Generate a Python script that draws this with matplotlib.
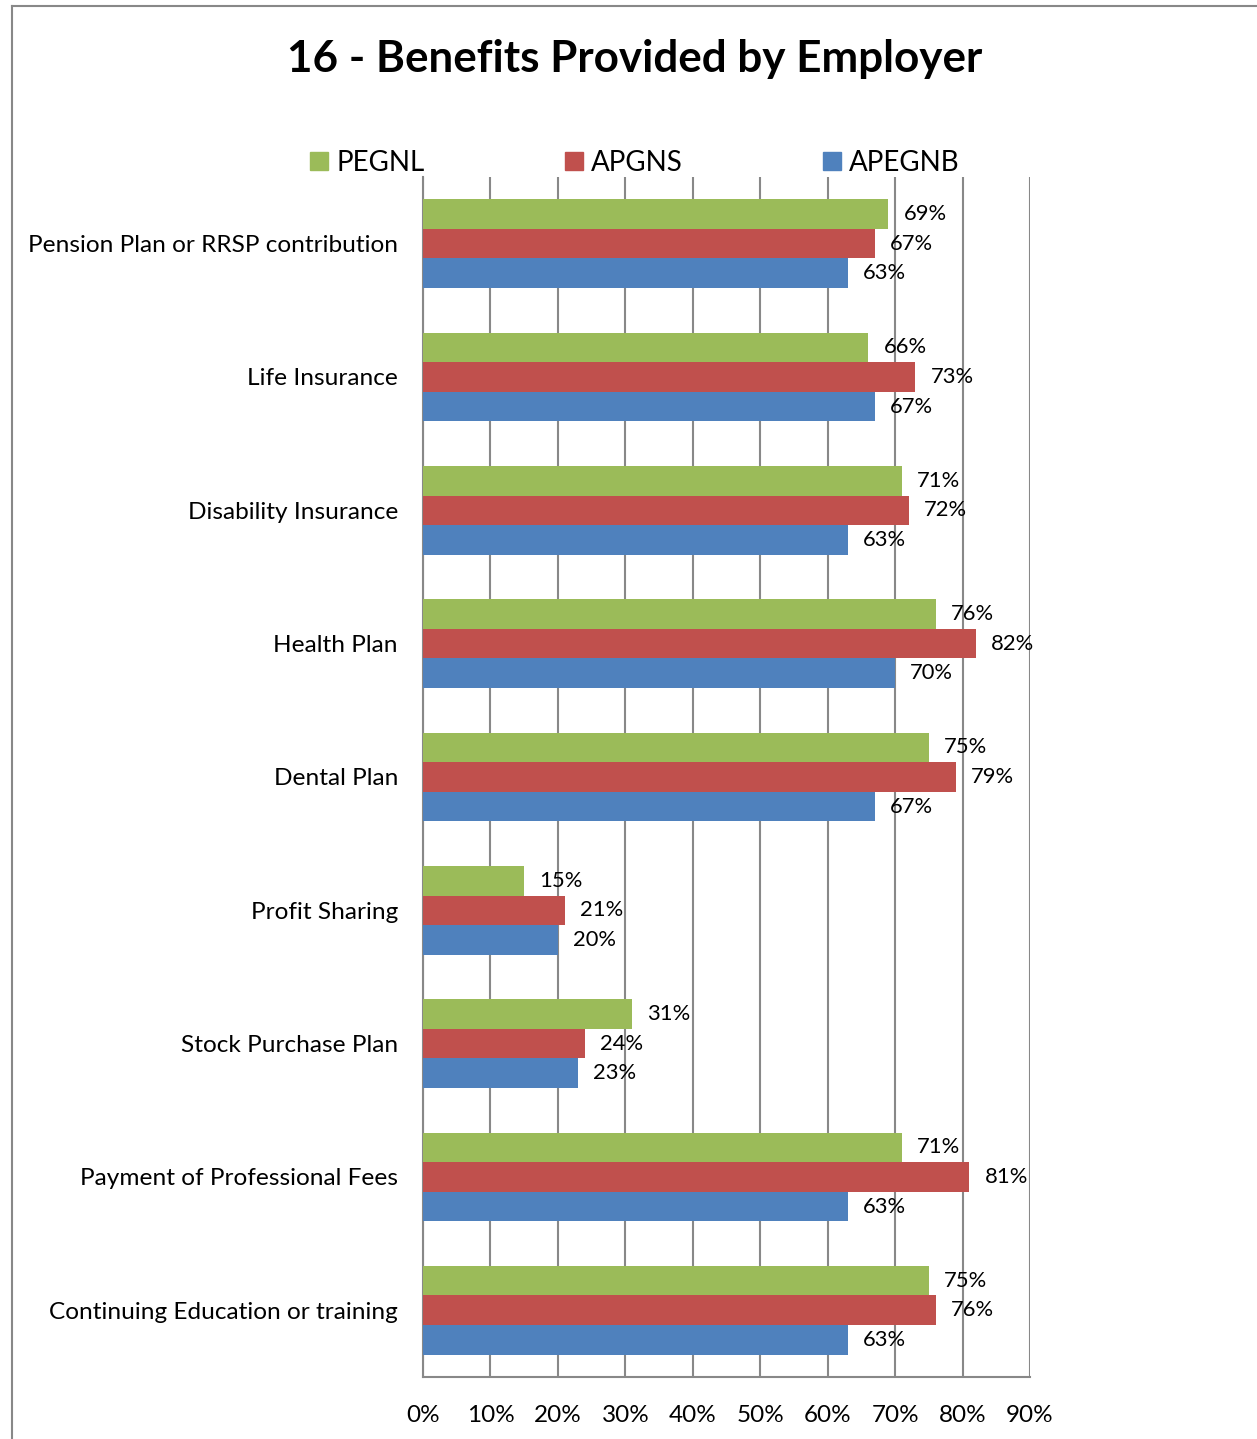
import numpy as np
import matplotlib
matplotlib.use("Agg")
import matplotlib.pyplot as plt
from matplotlib.lines import Line2D
from matplotlib.patches import Patch

plt.rcParams['font.family'] = ['Lato', 'DejaVu Sans']

# datos
categorias = ['Pension Plan or RRSP contribution', 'Life Insurance', 'Disability Insurance',
              'Health Plan', 'Dental Plan', 'Profit Sharing', 'Stock Purchase Plan',
              'Payment of Professional Fees', 'Continuing Education or training']
pegnl = [69, 66, 71, 76, 75, 15, 31, 71, 75]
apgns = [67, 73, 72, 82, 79, 21, 24, 81, 76]
apegnb = [63, 67, 63, 70, 67, 20, 23, 63, 63]
series = ['PEGNL', 'APGNS', 'APEGNB']
colores = ['#9BBB59', '#C0504D', '#4F81BD']
ticks = [0, 10, 20, 30, 40, 50, 60, 70, 80, 90]

fig = plt.figure(figsize=(12.57, 14.39), dpi=100)
ax = fig.add_axes([0.3365, 0.0431, 0.4829, 0.8339])

y = np.arange(len(categorias))
h = 2 / 9
for k, (vals, col, nom) in enumerate(zip([pegnl, apgns, apegnb], colores, series)):
    barras = ax.barh(y + (k - 1) * h, np.array(vals) / 100, height=h, color=col,
                     label=nom, zorder=3)
    etiquetas = ax.bar_label(barras, labels=[f'{v}%' for v in vals], padding=11,
                             fontsize=15.8, zorder=4)

ax.set_xlim(0, 0.9)
ax.set_ylim(len(categorias) - 0.5, -0.5)
ax.set_xticks(np.array(ticks) / 100)
ax.set_xticklabels([f'{t}%' for t in ticks], fontsize=17.5)
ax.set_yticks(y)
ax.set_yticklabels(categorias, fontsize=17.6)
ax.tick_params(axis='both', length=0, pad=18)
ax.tick_params(axis='x', pad=20)
ax.grid(axis='x', color='#888888', linewidth=1.5, zorder=0)
for s in ['top', 'right']:
    ax.spines[s].set_visible(False)
for s in ['left', 'bottom']:
    ax.spines[s].set_color('#888888')
    ax.spines[s].set_linewidth(1.5)

fig.text(0.505, 0.959, '16 - Benefits Provided by Employer', ha='center', va='center',
         fontsize=31.7, fontweight='bold')

handles = [Patch(color=c) for c in colores]
fig.legend(handles, series, loc='center', bbox_to_anchor=(0.505, 0.887), ncol=3,
           frameon=False, fontsize=20, handlelength=0.65, handleheight=0.65,
           handletextpad=0.3, columnspacing=5.05)

# borde del grafico
fig.add_artist(Line2D([12 / 1257, 12 / 1257], [0, 1 - 6 / 1439], color='#888888', lw=1.5))
fig.add_artist(Line2D([12 / 1257, 1], [1 - 6 / 1439, 1 - 6 / 1439], color='#888888', lw=1.5))

fig.savefig('out.png', dpi=100)
